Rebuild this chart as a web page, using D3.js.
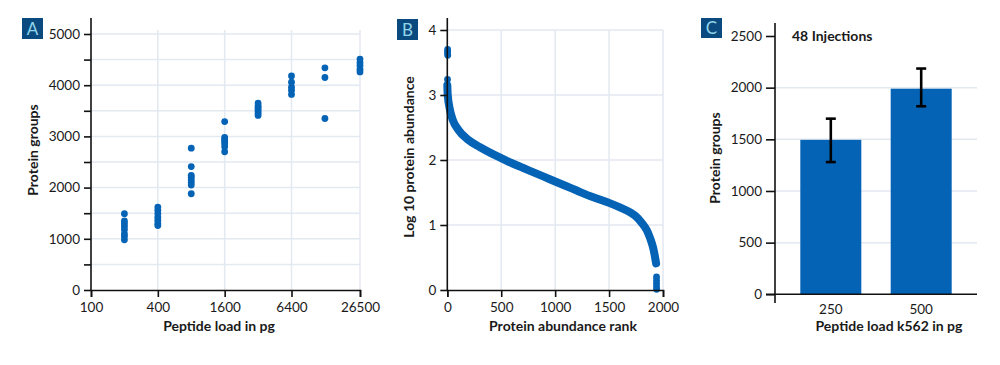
<!DOCTYPE html>
<html><head><meta charset="utf-8">
<script src="https://cdn.jsdelivr.net/npm/d3@7"></script>
<style>
body{margin:0;background:#fff;}
text{font-family:Lato, "Open Sans", sans-serif;fill:#1a1a1a;}
.title{font-size:14px;font-weight:700;}
</style></head><body>
<svg id="c" width="1000" height="365"></svg>
<script>
// ---------- Data ----------
// Panel A: peptide load (pg) vs protein groups
const loadsA = [200, 400, 800, 1600, 3200, 6400, 12800, 26500];
const groupsA = [
  [1490, 1350, 1300, 1240, 1180, 1100, 1050, 980],
  [1620, 1560, 1490, 1420, 1360, 1300, 1260],
  [2770, 2410, 2240, 2200, 2150, 2100, 2050, 1880],
  [3290, 2980, 2940, 2900, 2860, 2800, 2700],
  [3650, 3600, 3570, 3530, 3490, 3450, 3410],
  [4180, 4060, 3960, 3900, 3820],
  [4340, 4150, 3350],
  [4510, 4440, 4380, 4310, 4260]
];
const xTicksA = [100, 400, 1600, 6400, 26500];
const yTicksA = [0, 1000, 2000, 3000, 4000, 5000];

// Panel B: abundance rank curve (read along the dense band)
const rankB = [0, 4, 25, 50, 100, 195, 300, 400, 500, 600, 700, 800, 900, 1000, 1100, 1200, 1300, 1400, 1500, 1600, 1700, 1750, 1800, 1850, 1880, 1910, 1930, 1936];
const abundB = [3.15, 3.0, 2.77, 2.62, 2.47, 2.31, 2.2, 2.11, 2.03, 1.95, 1.88, 1.81, 1.74, 1.67, 1.6, 1.53, 1.46, 1.4, 1.34, 1.27, 1.19, 1.13, 1.04, 0.92, 0.8, 0.64, 0.47, 0.41];
const outlierRankB = [3, 3, 3, 4, 2, 1940, 1940, 1940, 1940, 1941];
const outlierAbundB = [3.7, 3.67, 3.64, 3.61, 3.24, 0.2, 0.15, 0.1, 0.05, 0.01];
const xTicksB = [0, 500, 1000, 1500, 2000];
const yTicksB = [0, 1, 2, 3, 4];

// Panel C: bar chart
const catsC = ["250", "500"];
const meanC = [1495, 1990];
const hiC = [1700, 2185];
const loC = [1280, 1820];
const yTicksC = [0, 500, 1000, 1500, 2000, 2500];

// ---------- Styles ----------
const BLUE = "#0563b6", GRID = "#e3e9f0", BOXC = "#0b4a7e", BOXT = "#92d6ea";
const svg = d3.select("#c");
svg.append("rect").attr("width",1000).attr("height",365).attr("fill","#fff");

function panelLabel(x, y, w, h, t) {
  svg.append("rect").attr("x",x).attr("y",y).attr("width",w).attr("height",h).attr("fill",BOXC);
  svg.append("text").attr("x",x+w/2).attr("y",y+h/2+6).attr("text-anchor","middle")
     .style("font-size","17px").style("fill",BOXT).text(t);
}
function styleAxis(g) {
  g.select(".domain").attr("stroke","#111").attr("stroke-width",1.6);
  g.selectAll(".tick line").attr("stroke","#111").attr("stroke-width",1.6);
  g.selectAll(".tick text").style("font-size","13.5px").style("font-family","Lato, sans-serif").attr("fill","#1a1a1a");
}

// ---------- Panel A ----------
{
  const x = d3.scaleLog().base(2).domain([100, 26500]).range([91, 360]);
  const y = d3.scaleLinear().domain([0, 5000]).range([290, 34]);
  const gridY = d3.range(500, 5001, 500);
  svg.append("g").selectAll("line").data(gridY).join("line")
    .attr("x1",91).attr("x2",360).attr("y1",d=>y(d)).attr("y2",d=>y(d)).attr("stroke",GRID).attr("stroke-width",1.5);
  svg.append("g").selectAll("line").data(xTicksA.slice(1)).join("line")
    .attr("x1",d=>x(d)).attr("x2",d=>x(d)).attr("y1",30).attr("y2",290).attr("stroke",GRID).attr("stroke-width",1.5);
  const pts = [];
  loadsA.forEach((l,i)=>groupsA[i].forEach(v=>pts.push([l,v])));
  svg.append("g").selectAll("circle").data(pts).join("circle")
    .attr("cx",d=>x(d[0])).attr("cy",d=>y(d[1])).attr("r",3.4).attr("fill",BLUE);
  const ax = svg.append("g").attr("transform","translate(0,290)")
    .call(d3.axisBottom(x).tickValues(xTicksA).tickFormat(d3.format("d")).tickSize(7).tickPadding(5));
  styleAxis(ax);
  const ay = svg.append("g").attr("transform","translate(91,0)")
    .call(d3.axisLeft(y).tickValues(d3.range(0,5001,500)).tickFormat(d=>d%1000===0?d:"").tickSize(7).tickPadding(4));
  styleAxis(ay);
  ay.select(".domain").attr("d","M0,18V290");
  svg.append("text").attr("class","title").attr("transform","translate(38,150) rotate(-90)").attr("text-anchor","middle").text("Protein groups");
  svg.append("text").attr("class","title").attr("x",219).attr("y",331).attr("text-anchor","middle").text("Peptide load in pg");
  panelLabel(22,18,21,21,"A");
}

// ---------- Panel B ----------
{
  const x = d3.scaleLinear().domain([0, 2000]).range([447.3, 663]);
  const y = d3.scaleLinear().domain([0, 4]).range([290, 30]);
  svg.append("g").selectAll("line").data(yTicksB.slice(1)).join("line")
    .attr("x1",447).attr("x2",663).attr("y1",d=>y(d)).attr("y2",d=>y(d)).attr("stroke",GRID).attr("stroke-width",1.5);
  svg.append("g").selectAll("line").data(xTicksB.slice(1)).join("line")
    .attr("x1",d=>x(d)).attr("x2",d=>x(d)).attr("y1",30).attr("y2",290).attr("stroke",GRID).attr("stroke-width",1.5);
  const line = d3.line().x((d,i)=>x(rankB[i])).y((d,i)=>y(abundB[i])).curve(d3.curveMonotoneX);
  svg.append("path").attr("d",line(abundB)).attr("fill","none").attr("stroke",BLUE)
    .attr("stroke-width",8).attr("stroke-linecap","round").attr("stroke-linejoin","round");
  svg.append("g").selectAll("circle").data(outlierAbundB).join("circle")
    .attr("cx",(d,i)=>x(outlierRankB[i])).attr("cy",d=>y(d)).attr("r",3.4).attr("fill",BLUE);
  const ax = svg.append("g").attr("transform","translate(0,290)")
    .call(d3.axisBottom(x).tickValues(xTicksB).tickFormat(d3.format("d")).tickSize(7).tickPadding(5));
  styleAxis(ax);
  const ay = svg.append("g").attr("transform","translate(447.3,0)")
    .call(d3.axisLeft(y).tickValues(yTicksB).tickFormat(d3.format("d")).tickSize(7).tickPadding(4));
  styleAxis(ay);
  ay.select(".domain").attr("d","M0,18V290");
  svg.append("text").attr("class","title").attr("transform","translate(414,157) rotate(-90)").attr("text-anchor","middle").text("Log 10 protein abundance");
  svg.append("text").attr("class","title").attr("x",563).attr("y",331).attr("text-anchor","middle").text("Protein abundance rank");
  panelLabel(397,19,21,21,"B");
}

// ---------- Panel C ----------
{
  const x = d3.scaleBand().domain(catsC).range([775, 977]).paddingInner(0.325).paddingOuter(0.28);
  const y = d3.scaleLinear().domain([0, 2500]).range([294.3, 36]);
  svg.append("g").selectAll("line").data(yTicksC.slice(1,5)).join("line")
    .attr("x1",775).attr("x2",977).attr("y1",d=>y(d)).attr("y2",d=>y(d)).attr("stroke",GRID).attr("stroke-width",1.5);
  svg.append("g").selectAll("rect").data(meanC).join("rect")
    .attr("x",(d,i)=>x(catsC[i])).attr("width",x.bandwidth()).attr("y",d=>y(d)).attr("height",d=>y(0)-y(d)).attr("fill",BLUE);
  const eb = svg.append("g").attr("stroke","#000").attr("stroke-width",2.6);
  catsC.forEach((c,i)=>{
    const cx = x(c)+x.bandwidth()/2;
    eb.append("line").attr("x1",cx).attr("x2",cx).attr("y1",y(hiC[i])).attr("y2",y(loC[i]));
    eb.append("line").attr("x1",cx-5).attr("x2",cx+5).attr("y1",y(hiC[i])).attr("y2",y(hiC[i]));
    eb.append("line").attr("x1",cx-5).attr("x2",cx+5).attr("y1",y(loC[i])).attr("y2",y(loC[i]));
  });
  const ax = svg.append("g").attr("transform","translate(0,294.3)")
    .call(d3.axisBottom(x).tickSize(0).tickPadding(10));
  styleAxis(ax);
  ax.select(".domain").attr("d","M766,0H977");
  const ay = svg.append("g").attr("transform","translate(775,0)")
    .call(d3.axisLeft(y).tickValues(yTicksC).tickFormat(d3.format("d")).tickSize(9).tickPadding(4));
  styleAxis(ay);
  ay.select(".domain").attr("d","M0,23V303");
  svg.append("text").attr("class","title").attr("transform","translate(720,158) rotate(-90)").attr("text-anchor","middle").text("Protein groups");
  svg.append("text").attr("class","title").attr("x",889).attr("y",331).attr("text-anchor","middle").text("Peptide load k562 in pg");
  svg.append("text").attr("class","title").attr("x",792).attr("y",41).text("48 Injections");
  panelLabel(701,18,21,20,"C");
}
</script></body></html>
